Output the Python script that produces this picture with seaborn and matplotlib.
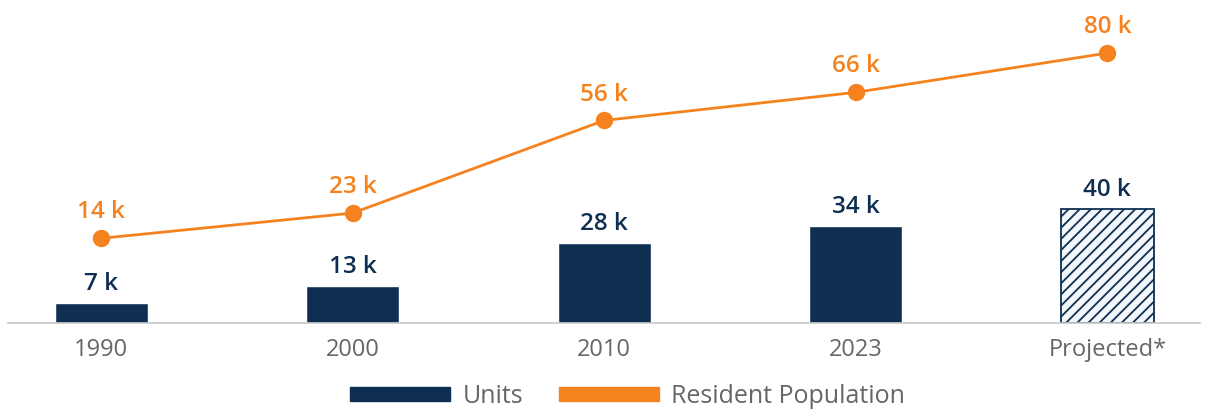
import matplotlib
matplotlib.use("Agg")
import matplotlib.pyplot as plt
import seaborn as sns
from matplotlib.patches import Patch

categories = ["1990", "2000", "2010", "2023", "Projected*"]
units = [7, 13, 28, 34, 40]
population = [14, 23, 56, 66, 80]
unit_labels = ["7 k", "13 k", "28 k", "34 k", "40 k"]
pop_labels = ["14 k", "23 k", "56 k", "66 k", "80 k"]

NAVY = "#0f2f52"
ORANGE = "#f5821f"
GRAY = "#666666"

sns.set_theme(style="white")
plt.rcParams["font.family"] = ["Open Sans", "DejaVu Sans"]
plt.rcParams["hatch.linewidth"] = 1.3
plt.rcParams["hatch.color"] = NAVY

fig = plt.figure(figsize=(12.07, 4.09), dpi=100)
ax = fig.add_axes([0.0066, 0.21, 0.988, 0.79])

sns.barplot(x=categories, y=units, ax=ax, color=NAVY, width=0.37, saturation=1)
last = ax.patches[-1]
last.set_facecolor("#f3f7fb")
last.set_edgecolor(NAVY)
last.set_hatch("///")
last.set_linewidth(1.3)

for p, lab in zip(ax.patches, unit_labels):
    ax.annotate(lab, (p.get_x() + p.get_width() / 2, p.get_height()),
                xytext=(0, 5), textcoords="offset points", ha="center", va="bottom",
                fontsize=17.5, fontweight="semibold", color=NAVY)

ax.set_ylim(0, 113)
ax.set_xlim(-0.37, 4.37)

ax2 = ax.twinx()
sns.pointplot(x=categories, y=population, ax=ax2, color=ORANGE,
              markers="o", markersize=11, linewidth=2)
for i, (v, lab) in enumerate(zip(population, pop_labels)):
    ax2.annotate(lab, (i, v), xytext=(0, 10), textcoords="offset points",
                 ha="center", va="bottom", fontsize=17.5, fontweight="semibold",
                 color=ORANGE)
ax2.set_ylim(-16.2, 98.9)
ax2.set_xlim(-0.37, 4.37)

for a in (ax, ax2):
    a.set_yticks([])
    a.set_ylabel("")
    a.set_xlabel("")
    for s in ["top", "right", "left", "bottom"]:
        a.spines[s].set_visible(False)
ax.spines["bottom"].set_visible(True)
ax.spines["bottom"].set_color("#c8c8c8")
ax.spines["bottom"].set_linewidth(1.2)
ax.tick_params(axis="x", length=0, pad=11, labelsize=17, labelcolor=GRAY)
ax2.tick_params(axis="x", length=0, labelbottom=False)

handles = [Patch(facecolor=NAVY, edgecolor=NAVY, label="Units"),
           Patch(facecolor=ORANGE, edgecolor=ORANGE, label="Resident Population")]
leg = fig.legend(handles=handles, loc="lower center", bbox_to_anchor=(0.52, -0.055), ncol=2,
                 frameon=False, fontsize=18, handlelength=4, handleheight=0.5,
                 columnspacing=1.4, handletextpad=0.5, labelcolor=GRAY)

fig.savefig("out.png", dpi=100)
